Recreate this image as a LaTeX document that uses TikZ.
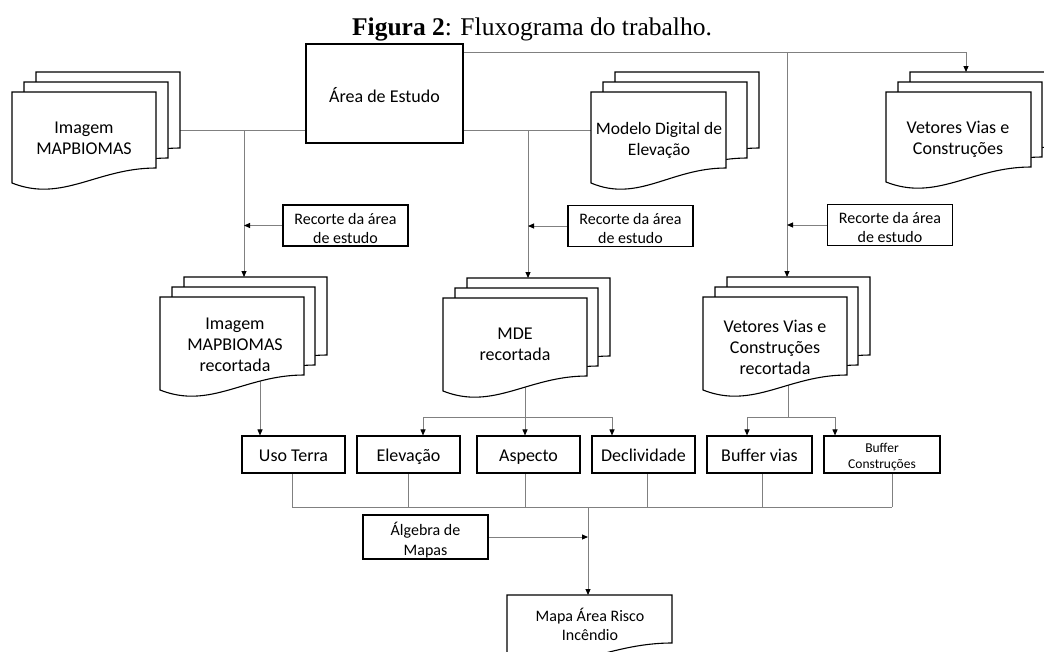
\documentclass[tikz,border=0pt]{standalone}
\usepackage{fontspec}
\setmainfont{Carlito}
\newfontfamily\timesf{Liberation Serif}
\usetikzlibrary{arrows.meta,fit}
\pgfdeclarelayer{bg}
\pgfsetlayers{bg,main}
\tikzset{
  conn/.style={draw=black!50, line width=0.9pt},
  arr/.style={conn, -{Triangle[length=6pt,width=5pt,color=black]}},
  boxn/.style={draw=black, line width=1.1pt, fill=white, inner sep=0pt, align=center,
    font=\fontsize{18}{21.5}\selectfont},
  oneline/.style={text height=17.5pt, text depth=4.5pt},
  docline/.style={draw=black, line width=1.1pt, fill=white},
  doctext/.style={align=center, inner sep=0pt, font=\fontsize{18}{21}\selectfont},
  extent/.style={inner sep=0pt, outer sep=0pt, draw=none},
  recbox/.style={boxn, minimum width=125pt, minimum height=41pt, font=\fontsize{16}{19}\selectfont}
}
\newcommand\docpage[4]{%
  \pgfmathsetmacro\dpR{#1+#3}%
  \pgfmathsetmacro\dpB{#2+#4}%
  \pgfmathsetmacro\dpCa{#1+0.35*#3}%
  \pgfmathsetmacro\dpCb{#1+0.59*#3}%
  \pgfmathsetmacro\dpYa{#2+#4+20}%
  \pgfmathsetmacro\dpYb{#2+#4-15}%
  \path[docline] (#1,#2) -- (\dpR,#2) -- (\dpR,\dpYb) .. controls (\dpCb,\dpYb) and (\dpCa,\dpYa) .. (#1,\dpB) -- cycle;
}
% name, x, y (front top-left), front width, back width, height
\newcommand\docstack[6]{%
  \pgfmathsetmacro\stXa{#2+24}\pgfmathsetmacro\stYa{#3-20}%
  \pgfmathsetmacro\stXb{#2+12}\pgfmathsetmacro\stYb{#3-10}%
  \docpage{\stXa}{\stYa}{#5}{#6}%
  \docpage{\stXb}{\stYb}{#5}{#6}%
  \docpage{#2}{#3}{#4}{#6}%
  \pgfmathsetmacro\stR{#2+24+#5}\pgfmathsetmacro\stB{#3+#6}%
  \pgfmathsetmacro\stT{#3-20}%
  \node[extent, fit={(#2,\stT) (\stR,\stB)}] (#1) {};
}
\begin{document}
\begin{tikzpicture}[x=1pt,y=-1pt]
\useasboundingbox (0,0) rectangle (1044,651);
\clip (0,0) rectangle (1044,651);
\begin{pgfonlayer}{bg}
\fill[white] (0,0) rectangle (1044,651);
\end{pgfonlayer}

% title
\node[font=\timesf\fontsize{25.5}{30}\selectfont, anchor=base, inner sep=0pt] (title) at (532,35)
  {\textbf{Figura 2}: Fluxograma do trabalho.};

% top row
\node[boxn, text height=21.5pt, text depth=4.5pt, minimum width=157pt, minimum height=99pt] (area) at (384.5,93.5) {Área de Estudo};
\docstack{imgS}{12}{92}{144}{144}{91}
\node[doctext] (imgT) at (84,138) {Imagem\\MAPBIOMAS};
\docstack{mdeS}{591}{92}{135}{144}{91}
\node[doctext, font=\fontsize{17.5}{20.5}\selectfont] (mdeT) at (659,140.5) {Modelo Digital de\\Elevação};
\docstack{vetS}{886}{92}{145}{144}{90}
\node[doctext] (vetT) at (958,139) {Vetores Vias e\\Construções};

% recorte boxes
\node[recbox] (rec1) at (345.5,225.5) {\rule{0pt}{17pt}Recorte da área\\de estudo};
\node[recbox] (rec2) at (630.5,226) {\rule{0pt}{17pt}Recorte da área\\de estudo};
\node[recbox] (rec3) at (890,225) {\rule{0pt}{17pt}Recorte da área\\de estudo};

% second row stacks
\docstack{imgrS}{160}{297}{144}{143}{93}
\node[doctext] (imgrT) at (235,344.5) {Imagem\\MAPBIOMAS\\recortada};
\docstack{mderS}{443}{298}{144}{143}{93}
\node[doctext] (mderT) at (515,344) {MDE\\recortada};
\docstack{vetrS}{703}{297}{144}{143}{93}
\node[doctext] (vetrT) at (775,347.5) {Vetores Vias e\\Construções\\recortada};

% row of boxes
\node[boxn, oneline, minimum width=103pt, minimum height=37pt] (uso) at (293.5,454.5) {Uso Terra};
\node[boxn, oneline, minimum width=103pt, minimum height=37pt] (elev) at (408.5,454.5) {Elevação};
\node[boxn, oneline, minimum width=103pt, minimum height=37pt] (asp) at (528.5,454.5) {Aspecto};
\node[boxn, oneline, minimum width=103pt, minimum height=37pt] (decl) at (643.5,454.5) {Declividade};
\node[boxn, oneline, minimum width=105pt, minimum height=37pt] (bvias) at (759.5,454.5) {Buffer vias};
\node[boxn, minimum width=116pt, minimum height=37pt, font=\fontsize{13.5}{16.5}\selectfont] (bcon) at (882,454.5) {\rule{0pt}{14pt}Buffer\\Construções};

% algebra and result
\node[boxn, minimum width=125pt, minimum height=44pt, font=\fontsize{16}{19.5}\selectfont] (alg) at (425.5,537) {\rule{0pt}{19.5pt}Álgebra de\\Mapas};
\docpage{507}{595}{165}{63}
\node[extent, fit={(507,595) (672,658)}] (mapaS) {};
\node[doctext, font=\fontsize{16}{18.5}\selectfont] (mapaT) at (590,624.5) {Mapa Área Risco\\Incêndio};

% junction coordinates
\coordinate (jA) at (244,130);
\coordinate (jB) at (528,130);
\coordinate (jT) at (787,52);
\coordinate (jV) at (966,52);
\coordinate (u0) at (260,380);
\coordinate (m0) at (525,380);
\coordinate (m1) at (525,417);
\coordinate (mL) at (423,417);
\coordinate (mR) at (612,417);
\coordinate (v0) at (788,380);
\coordinate (v1) at (788,417);
\coordinate (vL) at (747,417);
\coordinate (vR) at (835,417);
\coordinate (bj) at (588,507);

\begin{pgfonlayer}{bg}
  \draw[conn] (imgS.east |- jA) -- (area.west |- jA);
  \draw[conn] (area.east |- jA) -- (mdeS.west |- jA);
  \draw[arr] (jA) -- (jA |- imgrS.north);
  \draw[arr] (jB) -- (jB |- mderS.north);
  \draw[conn] (area.east |- jT) -- (jV);
  \draw[arr] (jV) -- (jV |- vetS.north);
  \draw[arr] (jT) -- (jT |- vetrS.north);
  \draw[arr] (rec1.west) -- (rec1.west -| jA);
  \draw[arr] (rec2.west) -- (rec2.west -| jB);
  \draw[arr] (rec3.west) -- (rec3.west -| jT);
  \draw[arr] (u0) -- (u0 |- uso.north);
  \draw[conn] (m0) -- (m1);
  \draw[conn] (mL) -- (mR);
  \draw[arr] (mL) -- (mL |- elev.north);
  \draw[arr] (m1) -- (m1 |- asp.north);
  \draw[arr] (mR) -- (mR |- decl.north);
  \draw[conn] (v0) -- (v1);
  \draw[conn] (vL) -- (vR);
  \draw[arr] (vL) -- (vL |- bvias.north);
  \draw[arr] (vR) -- (vR |- bcon.north);
  \draw[conn] ([xshift=-1.5pt]uso.south) -- ([xshift=-1.5pt]uso.south |- bj);
  \draw[conn] (elev.south) -- (elev.south |- bj);
  \draw[conn] ([xshift=-3.5pt]asp.south) -- ([xshift=-3.5pt]asp.south |- bj);
  \draw[conn] ([xshift=3.5pt]decl.south) -- ([xshift=3.5pt]decl.south |- bj);
  \draw[conn] ([xshift=2.5pt]bvias.south) -- ([xshift=2.5pt]bvias.south |- bj);
  \draw[conn] ([xshift=10pt]bcon.south) -- ([xshift=10pt]bcon.south |- bj);
  \draw[conn] ([xshift=-1.5pt]uso.south |- bj) -- ([xshift=10pt]bcon.south |- bj);
  \draw[arr] (bj) -- (bj |- mapaS.north);
  \draw[arr] (alg.east) -- (alg.east -| bj);
\end{pgfonlayer}
\end{tikzpicture}
\end{document}
